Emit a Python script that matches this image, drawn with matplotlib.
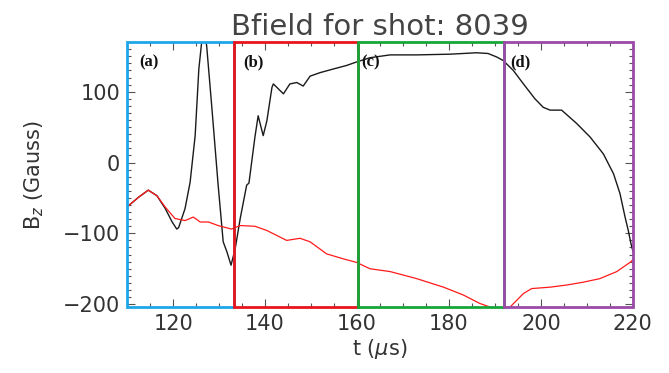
import matplotlib
matplotlib.use("Agg")
import matplotlib.pyplot as plt
from matplotlib.patches import Rectangle
from matplotlib.ticker import MultipleLocator
import matplotlib.transforms as mtransforms

# Black curve (B_z)
t_black = [110.3, 112.5, 114.6, 116.5, 118.3, 119.8, 120.8, 121.2, 122.6, 123.7, 124.8, 125.6,
           126.2, 126.8, 127.3, 128.4, 129.8, 130.9, 131.7, 132.6, 133.5, 134.6, 136.0, 136.5,
           137.8, 138.5, 139.6, 140.4, 141.5, 141.8, 142.9, 144.0, 145.4, 146.9, 148.3, 149.8,
           152.0, 154.8, 157.7, 159.9, 162.8, 167.2, 173.0, 180.2, 186.0, 188.5, 190.4, 191.8,
           194.0, 196.2, 198.7, 200.5, 202.0, 204.5, 207.8, 210.7, 213.6, 215.8, 217.2, 218.3,
           219.0, 219.6, 220.0]
b_black = [-61, -49, -39, -47, -65, -84, -94, -92, -65, -28, 38, 132,
           169, 182, 165, 80, -32, -112, -126, -145, -122, -79, -32, -29,
           36, 66, 38, 59, 106, 111, 104, 97, 111, 113, 108, 122,
           127, 132, 137, 142, 148, 152, 152, 153, 155, 154, 149, 144,
           130, 111, 90, 78, 74, 74, 55, 36, 12, -16, -44, -77,
           -96, -115, -125]

# Red curve
t_red = [110.3, 112.5, 114.6, 116.5, 118.3, 120.4, 122.6, 124.4, 125.9, 127.7, 129.8, 132.7,
         134.6, 137.8, 140.4, 144.7, 147.6, 149.8, 153.4, 157.0, 159.9, 162.8, 167.2, 173.0,
         178.8, 183.1, 186.7, 188.9, 190.5, 192.0, 193.3, 196.2, 198.0, 202.0, 205.6, 209.2,
         212.8, 216.5, 219.6, 220.0]
b_red = [-61, -49, -39, -47, -63, -79, -82, -77, -84, -84, -89, -94,
         -89, -90, -96, -110, -107, -112, -129, -136, -141, -150, -154, -164,
         -176, -187, -199, -204, -212, -212, -204, -185, -178, -176, -173, -169,
         -164, -154, -140, -137]

x_ticks = [120, 140, 160, 180, 200, 220]
y_ticks = [-200, -100, 0, 100]
regions = [(110, 133.3), (133.3, 160.2), (160.2, 192.0), (192.0, 220)]
region_labels = ["(a)", "(b)", "(c)", "(d)"]
region_colors = ["#1ea7e8", "#e8151d", "#17a63a", "#9b4aa8"]

fig = plt.figure(figsize=(6.69, 3.73), dpi=100)
ax = fig.add_axes([0.19, 0.177, 0.756, 0.71])
ymin, ymax = -204, 170
ax.set_xlim(110, 220)
ax.set_ylim(ymin, ymax)

ax.plot(t_black, b_black, color="#1a1a1a", lw=1.0)
ax.plot(t_red, b_red, color="#ff1a1a", lw=0.9)

for sp in ax.spines.values():
    sp.set_visible(False)

for (x0, x1), c in zip(regions, region_colors):
    ax.add_patch(Rectangle((x0, ymin), x1 - x0, ymax - ymin, fill=False,
                           edgecolor=c, lw=2.0, clip_on=False, zorder=5))

trans = mtransforms.blended_transform_factory(ax.transData, ax.transAxes)
label_x = [112.6, 135.2, 161.0, 193.3]
for lx, lab in zip(label_x, region_labels):
    ax.text(lx, 0.925, lab, transform=trans, fontsize=12, fontweight="bold",
            family="Liberation Serif", va="center", ha="left", color="#111", zorder=6)

ax.set_xticks(x_ticks)
ax.set_yticks(y_ticks)
ax.set_yticklabels(["\u2212200", "\u2212100", "0", "100"])
ax.xaxis.set_minor_locator(MultipleLocator(5))
ax.yaxis.set_minor_locator(MultipleLocator(10))
ax.tick_params(which="both", direction="in", top=True, right=True, color="#555", width=0.8)
ax.tick_params(which="major", length=6, labelsize=15, labelcolor="#333", pad=5)
ax.tick_params(which="minor", length=3)

ax.set_title("Bfield for shot: 8039", fontsize=21, color="#444", pad=5)
ax.set_xlabel("t ($\\mu$s)", fontsize=15, color="#333", labelpad=2)
ax.set_ylabel("B$_z$ (Gauss)", fontsize=15, color="#333", labelpad=12)

fig.savefig("out.png", dpi=100)
